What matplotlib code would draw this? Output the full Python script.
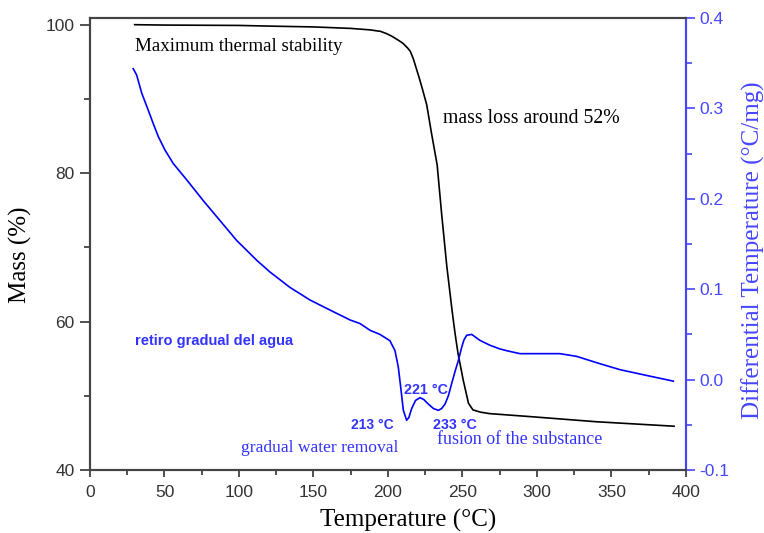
import matplotlib
matplotlib.use("Agg")
import matplotlib.pyplot as plt
from matplotlib.ticker import MultipleLocator

# TG curve (mass %)
tg_temp = [30, 50, 100, 123, 150, 175, 188, 195, 199, 203, 207, 210, 213, 215, 217, 219,
           221, 223, 226, 229, 233, 236, 239.5, 243, 245, 247, 250.5, 254, 257, 262,
           268, 295, 340, 392]
tg_mass = [100.0, 99.95, 99.9, 99.8, 99.7, 99.5, 99.3, 99.1, 98.8, 98.4, 97.9, 97.5,
           96.9, 96.4, 95.4, 94.1, 92.8, 91.4, 89.2, 85.6, 81.1, 74.5, 67.4, 61.5,
           58.4, 55.7, 52.1, 49.0, 48.1, 47.8, 47.6, 47.2, 46.5, 45.9]

# DTA curve (differential temperature, °C/mg)
dta_temp = [29, 31.3, 34.7, 39.1, 42.5, 45.8, 50.3, 55.9, 64.9, 76, 87.2, 98.4, 111.9,
            120.8, 134.2, 147.7, 161, 174.5, 181.2, 188, 194.6, 201.3, 204.7, 206.9,
            208.5, 210.3, 212.5, 214, 215.9, 218.5, 221.5, 224, 227, 230.5, 233.8, 236,
            238.3, 240.5, 242.7, 245, 247.2, 249.5, 251, 252.8, 256.2, 261.7, 268.4,
            275, 279.6, 288.6, 315.4, 326.6, 342.2, 355.7, 371.3, 391.5]
dta_val = [0.344, 0.337, 0.317, 0.298, 0.283, 0.269, 0.254, 0.239, 0.221, 0.198, 0.176,
           0.154, 0.132, 0.119, 0.102, 0.088, 0.077, 0.066, 0.062, 0.0545, 0.050, 0.043,
           0.032, 0.014, -0.008, -0.034, -0.045, -0.042, -0.032, -0.023, -0.020,
           -0.022, -0.027, -0.032, -0.034, -0.032, -0.027, -0.018, -0.0045, 0.009,
           0.021, 0.036, 0.044, 0.049, 0.050, 0.0434, 0.038, 0.034, 0.032, 0.0287,
           0.0287, 0.0257, 0.0176, 0.011, 0.0054, -0.0017]

serif = "Liberation Serif"
sans = "Liberation Sans"
axis_blue = "#4646ff"
curve_blue = "#0000ff"
text_blue = "#3333ff"

fig = plt.figure(figsize=(7.64, 5.33), dpi=100)
ax = fig.add_axes([0.1178, 0.1182, 0.7801, 0.848])
ax2 = ax.twinx()

ax.plot(tg_temp, tg_mass, color="black", lw=1.2)
ax2.plot(dta_temp, dta_val, color=curve_blue, lw=1.2)

ax.set_xlim(0, 400)
ax.set_ylim(40, 100.9)
ax2.set_ylim(-0.1, 0.4)

ax.xaxis.set_major_locator(MultipleLocator(50))
ax.xaxis.set_minor_locator(MultipleLocator(25))
ax.yaxis.set_major_locator(MultipleLocator(20))
ax.yaxis.set_minor_locator(MultipleLocator(10))
ax2.yaxis.set_minor_locator(MultipleLocator(0.05))
ax2.set_yticks([-0.1, 0.0, 0.1, 0.2, 0.3, 0.4])
ax2.set_yticklabels(["-0.1", "0.0", "0.1", "0.2", "0.3", "0.4"])

for a in (ax, ax2):
    for s in a.spines.values():
        s.set_linewidth(1.5)
        s.set_color("#444444")
ax2.spines["right"].set_color(axis_blue)

ax.tick_params(axis="x", which="major", direction="out", length=5, width=1.2,
               labelsize=12.5, colors="#333333", pad=6)
ax.tick_params(axis="x", which="minor", direction="out", length=3.5, width=1.2,
               colors="#333333")
ax.tick_params(axis="y", which="major", direction="out", length=7, width=1.2,
               labelsize=12.5, colors="#333333", pad=4)
ax.tick_params(axis="y", which="minor", direction="out", length=4, width=1.2,
               colors="#333333")
ax2.tick_params(axis="y", which="major", direction="out", length=6.5, width=1.2,
                labelsize=12.5, colors=axis_blue, pad=3)
ax2.tick_params(axis="y", which="minor", direction="out", length=4, width=1.2,
                colors=axis_blue)
for lab in ax.get_xticklabels() + ax.get_yticklabels() + ax2.get_yticklabels():
    lab.set_fontfamily(sans)

ax.set_xlabel("Temperature (°C)", fontsize=18, family=serif, va="center")
ax.xaxis.set_label_coords(0.5336, -0.1106)
ax.set_ylabel("Mass (%)", fontsize=18, family=serif, va="center")
ax.yaxis.set_label_coords(-0.1174, 0.4757)
ax2.set_ylabel("Differential Temperature (°C/mg)", fontsize=18, family=serif,
               color=axis_blue, va="center")
ax2.yaxis.set_label_coords(1.1124, 0.4867)

ax.text(30, 97.0, "Maximum thermal stability", fontsize=13.7, family=serif,
        color="black", va="center", ha="left")
ax.text(237, 87.3, "mass loss around 52%", fontsize=14.2, family=serif,
        color="black", va="center", ha="left")
ax.text(30, 57.4, "retiro gradual del agua", fontsize=10.5, family=sans,
        fontweight="bold", color=text_blue, va="center", ha="left")
ax.text(207, 43.0, "gradual water removal", fontsize=12.6, family=serif,
        color=text_blue, va="center", ha="right")
ax.text(233, 44.1, "fusion of the substance", fontsize=13, family=serif,
        color=text_blue, va="center", ha="left")
ax.text(204, 46.0, "213 °C", fontsize=10, family=sans, fontweight="bold",
        color=text_blue, va="center", ha="right")
ax.text(211, 50.8, "221 °C", fontsize=10.3, family=sans, fontweight="bold",
        color=text_blue, va="center", ha="left")
ax.text(230, 46.1, "233 °C", fontsize=10.3, family=sans, fontweight="bold",
        color=text_blue, va="center", ha="left")

fig.savefig("out.png", dpi=100)
